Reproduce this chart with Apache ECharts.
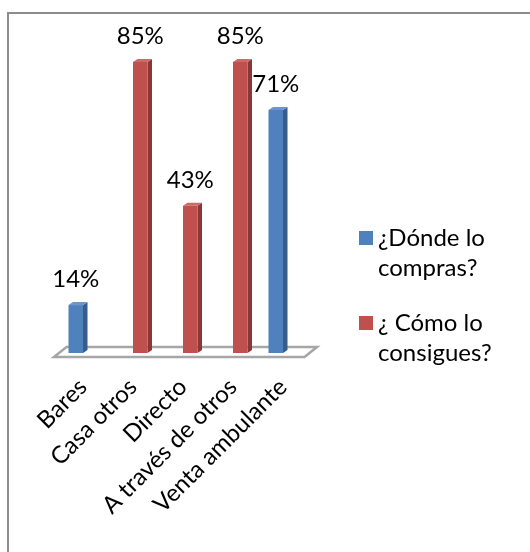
<!DOCTYPE html>
<html>
<head>
<meta charset="utf-8">
<script src="https://cdn.jsdelivr.net/npm/echarts@6/dist/echarts.min.js"></script>
<style>
  html, body { margin: 0; padding: 0; background: #fff; }
  #chart { width: 530px; height: 552px; }
</style>
</head>
<body>
<div id="chart"></div>
<script>
// Categories and values (percent)
const categories = ['Bares', 'Casa otros', 'Directo', 'A través de otros', 'Venta ambulante'];
const seriesNames = ['¿Dónde lo compras?', '¿ Cómo lo consigues?'];
const legendLines = [['¿Dónde lo', 'compras?'], ['¿ Cómo lo', 'consigues?']];
const dondeValues = [14, null, null, null, 71];
const comoValues = [null, 85, 43, 85, null];

const FONT = 'Lato';
const FONT_SIZE = 24;
const palettes = [
  { front: '#4f81bd', side: '#385d8a', top: '#6d95c8' },
  { front: '#c0504d', side: '#8a3735', top: '#cc6a67' }
];
const DEPTH_X = 4.5, DEPTH_Y = 3;

function toData(vals) {
  return vals.map((v, i) => (v == null ? null : [i, v])).filter(Boolean);
}

// Pseudo-3D column: front face, right side face, top cap and value label
function renderBar(params, api) {
  const idx = api.value(0);
  const v = api.value(1);
  const base = api.coord([idx, 0]);
  const top = api.coord([idx, v]);
  const band = api.size([1, 0])[0];
  const w = band * 0.29;
  const x = params.seriesIndex === 0 ? base[0] - w : base[0];
  const y0 = base[1], y1 = top[1];
  const pal = palettes[params.seriesIndex];
  return {
    type: 'group',
    children: [
      { type: 'polygon', shape: { points: [[x + w, y1], [x + w + DEPTH_X, y1 - DEPTH_Y], [x + w + DEPTH_X, y0 - DEPTH_Y], [x + w, y0]] },
        style: { fill: pal.side } },
      { type: 'polygon', shape: { points: [[x, y1], [x + DEPTH_X, y1 - DEPTH_Y], [x + w + DEPTH_X, y1 - DEPTH_Y], [x + w, y1]] },
        style: { fill: pal.top } },
      { type: 'rect', shape: { x: x, y: y1, width: w, height: y0 - y1 }, style: { fill: pal.front } },
      { type: 'text', x: x + w / 2, y: y1 - 26,
        style: { text: v + '%', fontFamily: FONT, fontSize: FONT_SIZE, align: 'center', verticalAlign: 'middle', fill: '#000' } }
    ]
  };
}

// Floor plane under the columns
function renderFloor(params, api) {
  const cs = params.coordSys;
  const L = cs.x, R = cs.x + cs.width, y0 = cs.y + cs.height;
  return {
    type: 'polygon',
    shape: { points: [[L - 4, y0 + 4], [R - 3.5, y0 + 4], [R + 9, y0 - 6], [L + 8.5, y0 - 6]] },
    style: { fill: '#fff', stroke: '#a6a6a6', lineWidth: 2.5 }
  };
}

const chart = echarts.init(document.getElementById('chart'), null, { renderer: 'canvas' });

chart.setOption({
  animation: false,
  backgroundColor: '#fff',
  graphic: [
    { type: 'rect', shape: { x: 8, y: 13, width: 700, height: 700 },
      style: { fill: 'none', stroke: '#8c8c8c', lineWidth: 2 }, z: 0 }
  ],
  grid: { left: 58, right: 222, top: 10.6, bottom: 199 },
  xAxis: {
    type: 'category',
    data: categories,
    axisLine: { show: false },
    axisTick: { show: false },
    splitLine: { show: false },
    axisLabel: {
      rotate: 45, interval: 0, margin: 30, align: 'right', verticalAlign: 'middle',
      fontFamily: FONT, fontSize: FONT_SIZE, color: '#000'
    }
  },
  yAxis: { type: 'value', min: 0, max: 100, show: false, splitLine: { show: false } },
  legend: {
    orient: 'vertical', left: 359, top: 193, padding: 0,
    itemWidth: 14, itemHeight: 14, itemGap: -5, icon: 'rect',
    data: seriesNames,
    // leading blank line keeps the swatch level with the first text line
    formatter: name => '\n' + legendLines[seriesNames.indexOf(name)].join('\n'),
    textStyle: { fontFamily: FONT, fontSize: FONT_SIZE, lineHeight: 30, color: '#000' }
  },
  series: [
    { name: seriesNames[0], type: 'custom', renderItem: renderBar, data: toData(dondeValues),
      itemStyle: { color: palettes[0].front }, z: 3 },
    { name: seriesNames[1], type: 'custom', renderItem: renderBar, data: toData(comoValues),
      itemStyle: { color: palettes[1].front }, z: 3 },
    { type: 'custom', renderItem: renderFloor, data: [[0, 0]], silent: true, z: 1 }
  ]
});
</script>
</body>
</html>
